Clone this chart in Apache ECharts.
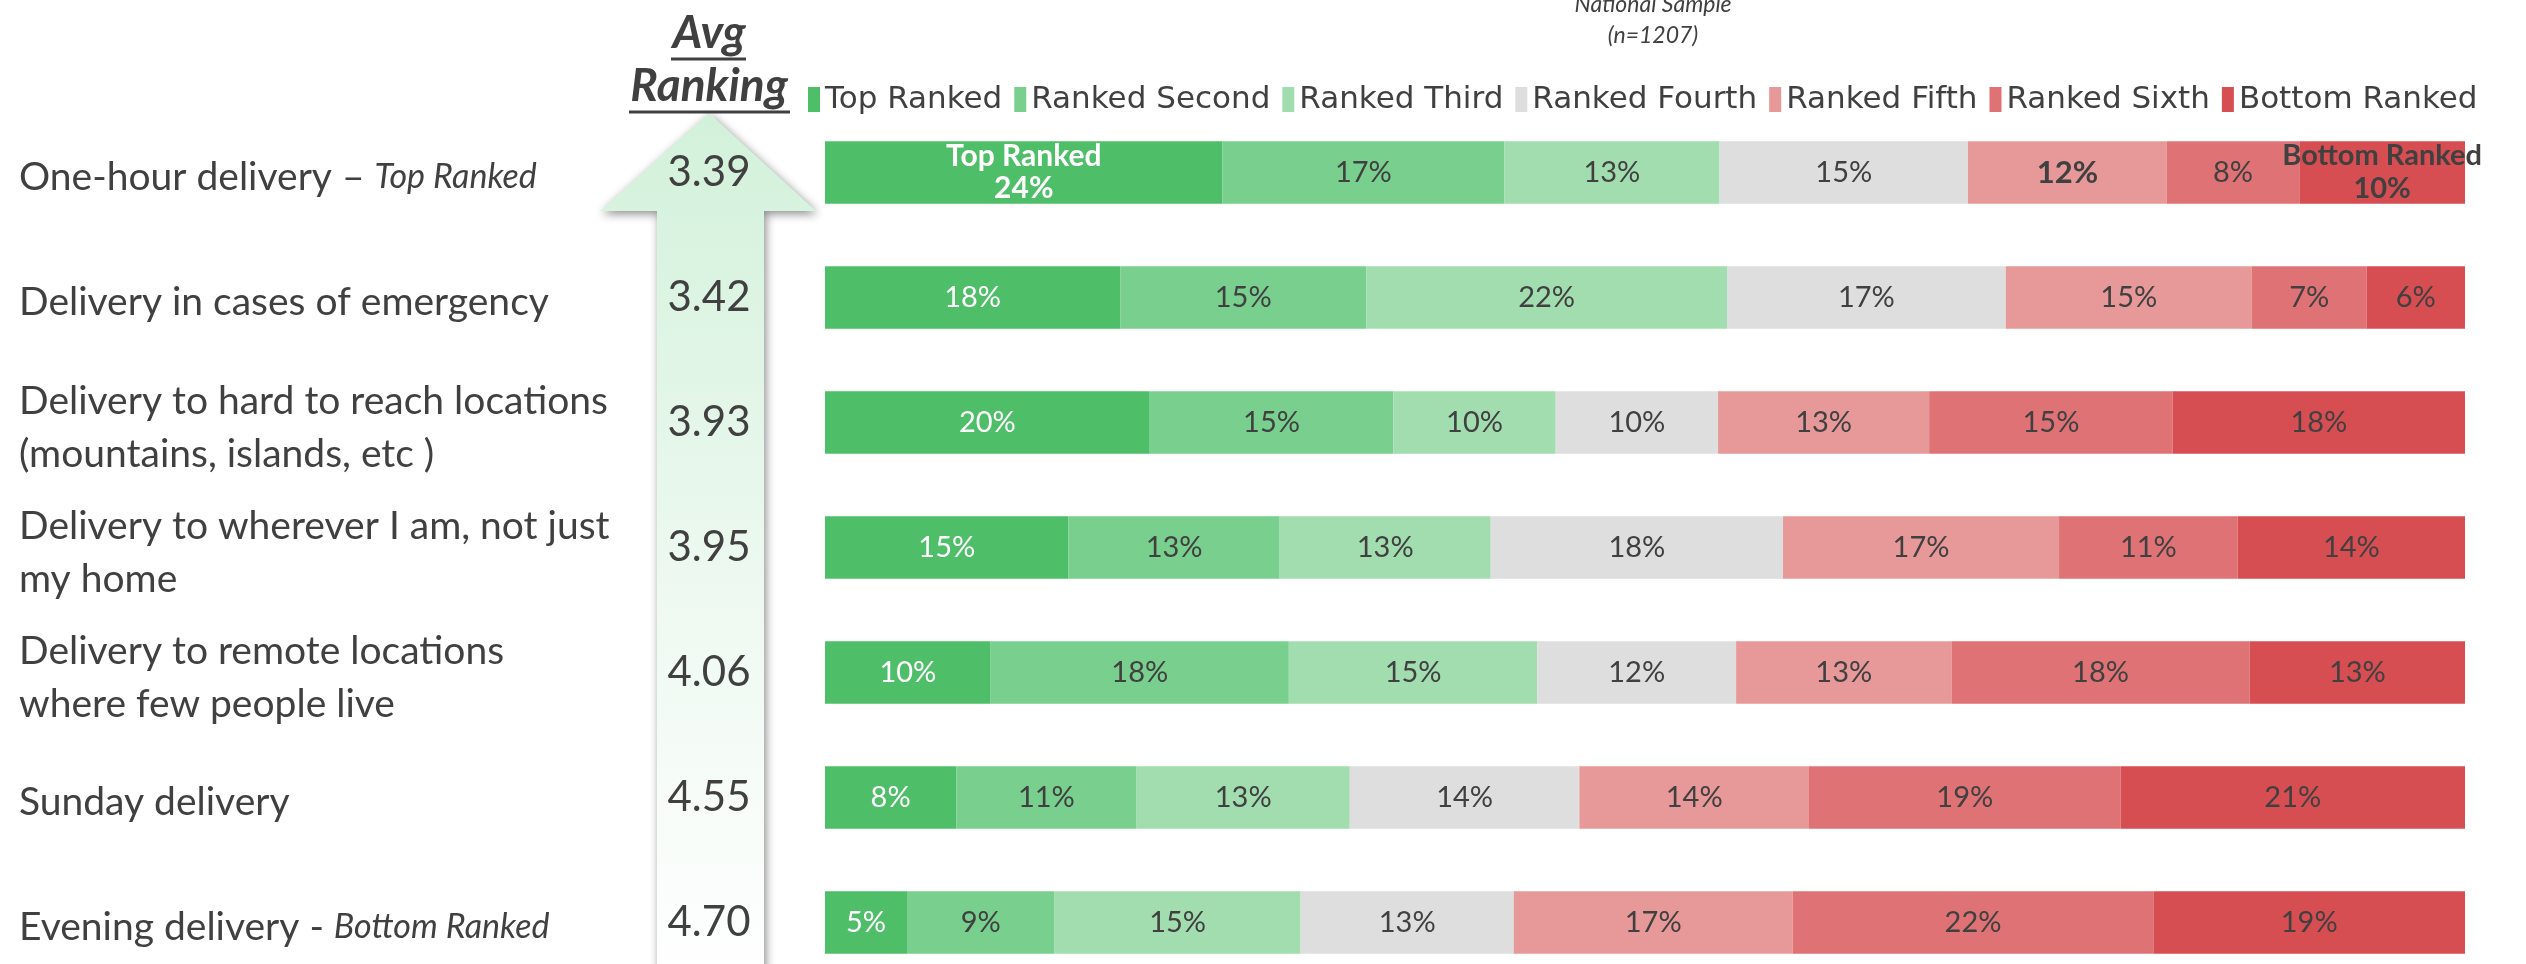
<!DOCTYPE html>
<html>
<head>
<meta charset="utf-8">
<script src="https://cdn.jsdelivr.net/npm/echarts@6/dist/echarts.min.js"></script>
<style>html,body{margin:0;padding:0;background:#fff}#c{width:2526px;height:964px}</style>
</head>
<body>
<div id="c"></div>
<script>
// ---- data ----
const categories = [
  "One-hour delivery – {i|Top Ranked}",
  "Delivery in cases of emergency",
  "Delivery to hard to reach locations\n(mountains, islands, etc )",
  "Delivery to wherever I am, not just\nmy home",
  "Delivery to remote locations\nwhere few people live",
  "Sunday delivery",
  "Evening delivery - {i|Bottom Ranked}"
];
const avgRanking = ["3.39", "3.42", "3.93", "3.95", "4.06", "4.55", "4.70"];
const seriesNames = ["Top Ranked", "Ranked Second", "Ranked Third", "Ranked Fourth", "Ranked Fifth", "Ranked Sixth", "Bottom Ranked"];
const topRanked    = [24, 18, 20, 15, 10, 8, 5];
const rankedSecond = [17, 15, 15, 13, 18, 11, 9];
const rankedThird  = [13, 22, 10, 13, 15, 13, 15];
const rankedFourth = [15, 17, 10, 18, 12, 14, 13];
const rankedFifth  = [12, 15, 13, 17, 13, 14, 17];
const rankedSixth  = [8, 7, 15, 11, 18, 19, 22];
const bottomRanked = [10, 6, 18, 14, 13, 21, 19];
const sampleTitle = "National Sample\n(n=1207)";

// ---- build ----
const all = [topRanked, rankedSecond, rankedThird, rankedFourth, rankedFifth, rankedSixth, bottomRanked];
const colors = ["#4FBE69", "#78CF8E", "#A2DDAF", "#DEDEDE", "#E79898", "#DF7275", "#D64D52"];
const rowSums = categories.map((_, r) => all.reduce((s, a) => s + a[r], 0));
const labelFont = "Lato, 'DejaVu Sans', sans-serif";

const series = all.map((arr, si) => ({
  name: seriesNames[si],
  type: 'bar',
  stack: 'total',
  barWidth: '50%',
  itemStyle: { color: colors[si] },
  emphasis: { disabled: true },
  label: {
    show: true,
    position: 'inside',
    fontFamily: labelFont,
    fontSize: 29,
    color: si === 0 ? '#ffffff' : '#404040',
    formatter: p => {
      const raw = arr[p.dataIndex];
      if (p.dataIndex === 0 && si === 0) return '{b|Top Ranked}\n{b|' + raw + '%}';
      if (p.dataIndex === 0 && si === 6) return '{d|Bottom Ranked}\n{d|' + raw + '%}';
      if (p.dataIndex === 0 && si === 4) return '{e|' + raw + '%}';
      return raw + '%';
    },
    rich: {
      b: { color: '#ffffff', fontWeight: 'bold', fontSize: 30, lineHeight: 32, fontFamily: labelFont },
      d: { color: '#404040', fontWeight: 'bold', fontSize: 29, lineHeight: 33, fontFamily: labelFont },
      e: { color: '#404040', fontWeight: 'bold', fontSize: 31, fontFamily: labelFont }
    }
  },
  data: arr.map((v, r) => v / rowSums[r] * 100)
}));

const chart = echarts.init(document.getElementById('c'), null, { renderer: 'canvas' });
chart.setOption({
  animation: false,
  backgroundColor: '#ffffff',
  title: {
    text: sampleTitle,
    left: 1648, top: -16, textAlign: 'center',
    textStyle: { fontFamily: labelFont, fontStyle: 'italic', fontWeight: 'normal', fontSize: 23, lineHeight: 31, color: '#404040' }
  },
  legend: {
    data: seriesNames,
    left: 803, top: 79,
    icon: 'rect', itemWidth: 12, itemHeight: 25, itemGap: 12,
    textStyle: { fontFamily: "'DejaVu Sans', sans-serif", fontSize: 31, color: '#404040' }
  },
  grid: { left: 825, right: 61, top: 110, height: 875, containLabel: false, outerBoundsMode: 'none' },
  xAxis: { type: 'value', min: 0, max: 100, show: false },
  yAxis: [
    {
      type: 'category', inverse: true, data: categories,
      axisLine: { show: false }, axisTick: { show: false }, splitLine: { show: false },
      axisLabel: {
        align: 'left', margin: 806, fontFamily: labelFont, fontSize: 39, lineHeight: 53, color: '#404040',
        padding: [10, 0, 0, 0],
        rich: { i: { fontFamily: labelFont, fontStyle: 'italic', fontSize: 34, color: '#404040' } }
      }
    },
    {
      type: 'category', inverse: true, data: avgRanking, position: 'left',
      axisLine: { show: false }, axisTick: { show: false }, splitLine: { show: false },
      axisLabel: { align: 'center', margin: 116, fontFamily: labelFont, fontSize: 42, color: '#404040', padding: [10, 0, 0, 0] },
      z: 10
    }
  ],
  graphic: [
    {
      type: 'polygon', z: 0, silent: true,
      shape: { points: [[709, 113], [816, 211], [764, 211], [764, 990], [657, 990], [657, 211], [600, 211]] },
      style: {
        fill: new echarts.graphic.LinearGradient(0, 0, 0, 1, [
          { offset: 0, color: '#D2F1DA' }, { offset: 0.55, color: '#EEF9F1' }, { offset: 1, color: '#FFFFFF' }
        ]),
        shadowBlur: 10, shadowColor: 'rgba(0,0,0,0.45)', shadowOffsetX: 2, shadowOffsetY: 3
      }
    },
    {
      type: 'text', x: 709, y: 33, z: 5,
      style: { text: 'Avg', align: 'center', verticalAlign: 'middle', fontFamily: labelFont, fontStyle: 'italic', fontWeight: 'bold', fontSize: 46, fill: '#404040' }
    },
    {
      type: 'text', x: 709, y: 86, z: 5,
      style: { text: 'Ranking', align: 'center', verticalAlign: 'middle', fontFamily: labelFont, fontStyle: 'italic', fontWeight: 'bold', fontSize: 46, fill: '#404040' }
    },
    { type: 'line', z: 5, shape: { x1: 671, y1: 59, x2: 746, y2: 59 }, style: { stroke: '#404040', lineWidth: 3 } },
    { type: 'line', z: 5, shape: { x1: 629, y1: 112, x2: 790, y2: 112 }, style: { stroke: '#404040', lineWidth: 3 } }
  ],
  series: series
});
</script>
</body>
</html>
